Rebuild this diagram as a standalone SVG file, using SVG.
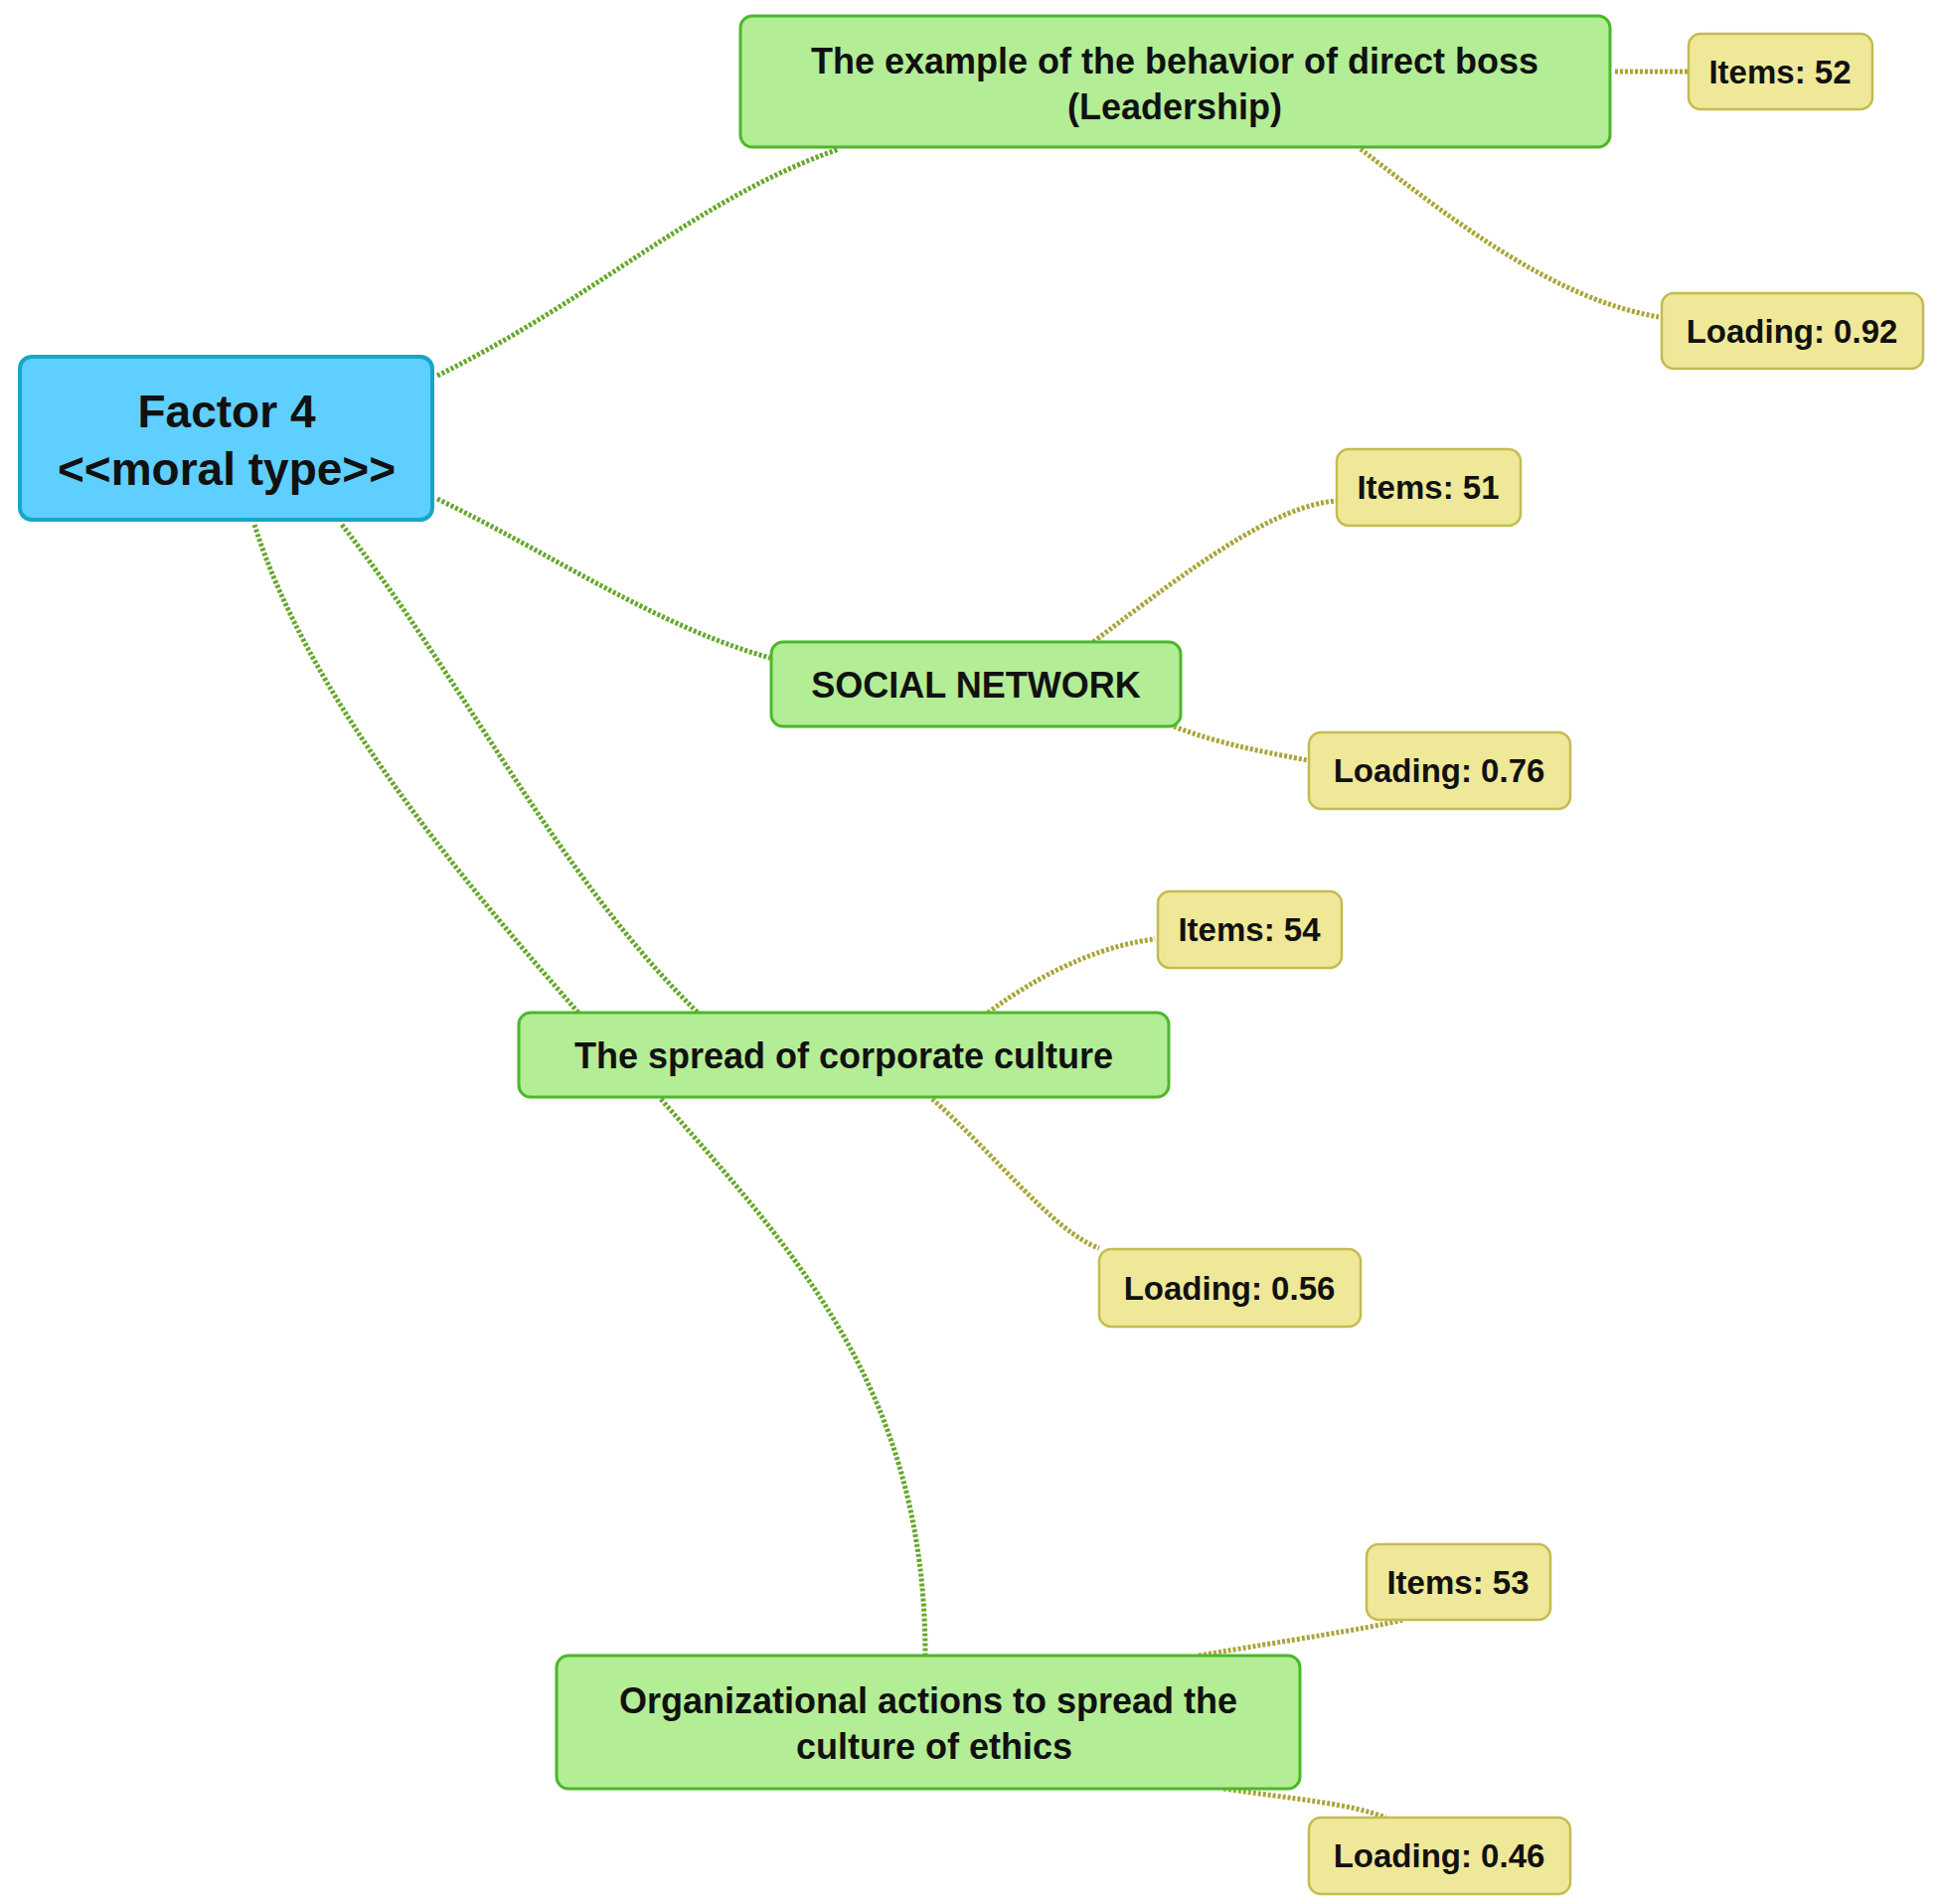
<svg xmlns="http://www.w3.org/2000/svg" width="1951" height="1916" viewBox="0 0 1951 1916">
<style>
.g{fill:#b3ed96;stroke:#4cb82a;stroke-width:3}
.y{fill:#efe898;stroke:#c4bb52;stroke-width:2.5}
.b{fill:#5fcfff;stroke:#16a6c8;stroke-width:4}
text{font-family:"Liberation Sans",Arial,sans-serif;font-weight:bold;fill:#111;text-anchor:middle}
.t{font-size:36px}.s{font-size:33px}.f{font-size:46px}
.cg{fill:none;stroke:#66a82c;stroke-width:5;stroke-dasharray:3 2}
.cy{fill:none;stroke:#aaa53a;stroke-width:5;stroke-dasharray:3 2}
</style>
<rect width="1951" height="1916" fill="#fff"/>
<g id="connectors">
<path class="cg" d="M440,378 C600,300 700,200 844,150"/>
<path class="cg" d="M440,502 C560,560 660,630 775,662"/>
<path class="cg" d="M344,528 C470,690 560,880 702,1019"/>
<path class="cg" d="M256,528 C310,700 460,880 582,1019"/>
<path class="cg" d="M665,1106 C800,1260 931,1400 931,1666"/>
<path class="cy" d="M1625,72 L1699,72"/>
<path class="cy" d="M1369,150 C1460,220 1560,300 1669,319"/>
<path class="cy" d="M1100,646 C1200,570 1280,510 1344,504"/>
<path class="cy" d="M1181,731 C1230,750 1280,758 1315,765"/>
<path class="cy" d="M994,1019 C1060,970 1120,950 1162,945"/>
<path class="cy" d="M938,1106 C1000,1160 1060,1240 1106,1256"/>
<path class="cy" d="M1206,1666 C1300,1650 1370,1640 1412,1630"/>
<path class="cy" d="M1231,1800 C1300,1810 1360,1815 1394,1829"/>
</g>
<g id="factor"><rect class="b" x="20" y="359" width="415" height="164" rx="12"/><text class="f" x="228" y="430">Factor 4</text><text class="f" x="228" y="488">&lt;&lt;moral type&gt;&gt;</text></g>
<g id="boss"><rect class="g" x="745" y="16" width="875" height="132" rx="12"/><text class="t" x="1182" y="74">The example of the behavior of direct boss</text><text class="t" x="1182" y="120">(Leadership)</text></g>
<g id="items52"><rect class="y" x="1699" y="34" width="185" height="76" rx="12"/><text class="s" x="1791" y="84">Items: 52</text></g>
<g id="load92"><rect class="y" x="1672" y="295" width="263" height="76" rx="12"/><text class="s" x="1803" y="345">Loading: 0.92</text></g>
<g id="social"><rect class="g" x="776" y="646" width="412" height="85" rx="12"/><text class="t" x="982" y="702">SOCIAL NETWORK</text></g>
<g id="items51"><rect class="y" x="1345" y="452" width="185" height="77" rx="12"/><text class="s" x="1437" y="502">Items: 51</text></g>
<g id="load76"><rect class="y" x="1317" y="737" width="263" height="77" rx="12"/><text class="s" x="1448" y="787">Loading: 0.76</text></g>
<g id="spread"><rect class="g" x="522" y="1019" width="654" height="85" rx="12"/><text class="t" x="849" y="1075">The spread of corporate culture</text></g>
<g id="items54"><rect class="y" x="1165" y="897" width="185" height="77" rx="12"/><text class="s" x="1257" y="947">Items: 54</text></g>
<g id="load56"><rect class="y" x="1106" y="1257" width="263" height="78" rx="12"/><text class="s" x="1237" y="1308">Loading: 0.56</text></g>
<g id="org"><rect class="g" x="560" y="1666" width="748" height="134" rx="12"/><text class="t" x="934" y="1724">Organizational actions to spread the</text><text class="t" x="940" y="1770">culture of ethics</text></g>
<g id="items53"><rect class="y" x="1375" y="1554" width="185" height="76" rx="12"/><text class="s" x="1467" y="1604">Items: 53</text></g>
<g id="load46"><rect class="y" x="1317" y="1829" width="263" height="77" rx="12"/><text class="s" x="1448" y="1879">Loading: 0.46</text></g>
</svg>
